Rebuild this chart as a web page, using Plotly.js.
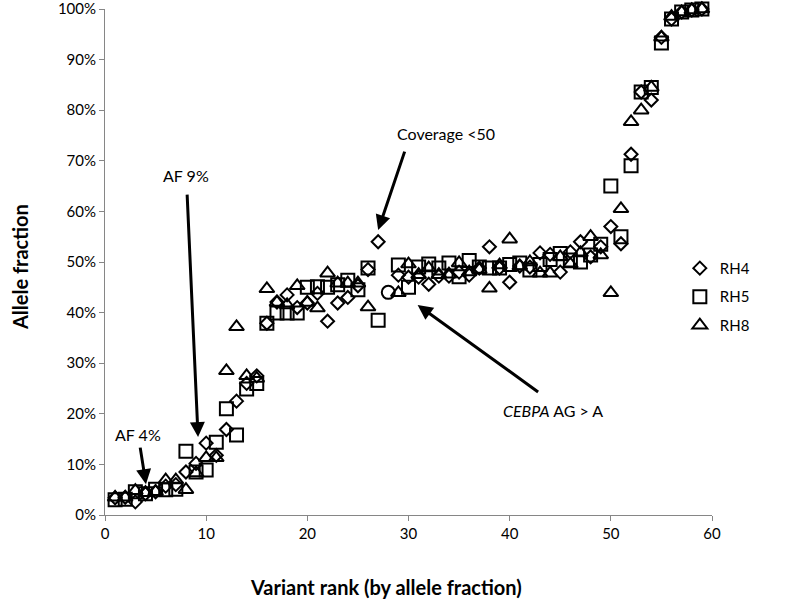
<!DOCTYPE html>
<html>
<head>
<meta charset="utf-8">
<script src="https://cdn.plot.ly/plotly-3.0.1.min.js"></script>
<style>
  html, body { margin: 0; padding: 0; background: #fff; }
  #chart { width: 788px; height: 602px; }
</style>
</head>
<body>
<div id="chart"></div>
<script>
// variant rank 1..59, allele fraction in %
const ranks = Array.from({ length: 59 }, (_, i) => i + 1);

const rh4 = [
  3.4, 3.5, 2.6, 4.2, 4.6, 5.7, 6.0, 8.5, 10.2, 14.2,
  11.8, 16.9, 22.5, 26.0, 27.5, 37.9, 42.1, 43.5, 41.0, 41.9,
  43.8, 38.3, 41.9, 43.0, 45.3, 48.5, 54.0, null, 47.4, 47.0,
  47.0, 45.6, 47.2, 47.2, 48.0, 47.4, 48.8, 53.0, 48.8, 46.0,
  49.2, 49.0, 51.8, 51.5, 48.0, 52.0, 54.0, 51.0, 53.0, 57.0,
  53.6, 71.3, 83.6, 82.0, 94.4, 98.0, 99.4, 99.8, 100,
];

const rh5 = [
  3.0, 3.1, 4.6, 4.2, 5.1, 5.0, 5.1, 12.6, 8.5, 8.9,
  14.4, 21.0, 15.8, 24.9, 26.0, 37.9, 39.9, 39.9, 39.9, 45.0,
  45.1, 45.0, 45.5, 46.4, 44.5, 48.8, 38.5, null, 49.4, 45.0,
  49.0, 49.6, 48.8, 49.8, 47.1, 50.3, 49.0, 48.8, 48.8, 49.5,
  49.8, 48.4, 49.5, 50.5, 51.7, 50.4, 50.0, 51.4, 53.5, 65.0,
  55.0, 69.0, 83.6, 84.5, 93.3, 98.0, 99.4, 99.8, 100,
];

const rh8 = [
  3.5, 3.5, 4.8, 4.4, 4.6, 6.9, 6.9, 5.0, 8.3, 11.3,
  11.3, 28.5, 37.2, 27.5, 27.0, 44.7, 42.0, 41.5, 45.3, 42.0,
  40.9, 47.8, 45.8, 45.8, 45.8, 41.1, null, null, 43.9, 49.6,
  47.5, 48.8, 47.5, 47.6, 49.8, 48.0, 48.5, 44.8, 49.4, 54.5,
  49.2, 50.0, 47.8, 47.8, 51.0, 49.6, 51.8, 55.0, 51.4, 43.9,
  60.5, 77.7, 80.0, 84.5, 94.4, 98.5, 99.4, 99.8, 100,
];

// CEBPA AG > A variant, drawn as an open circle
const cebpaRank = [28];
const cebpaAF = [44.0];

const xTicks = [0, 10, 20, 30, 40, 50, 60];
const yTicks = [0, 10, 20, 30, 40, 50, 60, 70, 80, 90, 100];
const yTickText = yTicks.map((v) => v + "%");

const FONT = "Lato, 'Open Sans', sans-serif";
const AXIS_GREY = "#868686";

function seriesTrace(name, y, symbol, size) {
  return {
    x: ranks,
    y,
    type: "scatter",
    mode: "markers",
    name,
    legendgroup: name,
    cliponaxis: false,
    marker: { symbol, size, color: "#000", line: { color: "#000", width: 2 } },
  };
}

const traces = [
  seriesTrace("RH4", rh4, "diamond-open", 10),
  seriesTrace("RH5", rh5, "square-open", 13),
  seriesTrace("RH8", rh8, "triangle-up-open", 13),
  {
    x: cebpaRank,
    y: cebpaAF,
    type: "scatter",
    mode: "markers",
    showlegend: false,
    marker: { symbol: "circle-open", size: 13, color: "#000", line: { color: "#000", width: 2 } },
  },
];

function arrow(x, y, ax, ay) {
  return {
    x, y, ax, ay, text: "",
    showarrow: true, arrowhead: 2, arrowsize: 1, arrowwidth: 3, arrowcolor: "#000",
  };
}

function label(x, y, text) {
  return { x, y, text, showarrow: false, font: { family: FONT, size: 16, color: "#000" } };
}

const annotations = [
  label(33.7, 75.3, "Coverage <50"),
  arrow(27, 56.3, 27, -80),
  label(8.0, 67.0, "AF 9%"),
  arrow(9.2, 15.4, -11, -244),
  label(3.3, 16.0, "AF 4%"),
  arrow(4.05, 6.1, -6, -38),
  label(44.3, 20.7, "<i>CEBPA</i> AG &gt; A"),
  arrow(30.9, 41.5, 122, 88),
  {
    xref: "paper", yref: "paper", x: 0.463, y: -0.142, xanchor: "center", yanchor: "middle",
    text: "<b>Variant rank (by allele fraction)</b>", showarrow: false,
    font: { family: FONT, size: 20, color: "#000" },
  },
  {
    xref: "paper", yref: "paper", x: -0.14, y: 0.49, xanchor: "center", yanchor: "middle",
    textangle: -90, text: "<b>Allele fraction</b>", showarrow: false,
    font: { family: FONT, size: 20, color: "#000" },
  },
];

const layout = {
  width: 788,
  height: 602,
  font: { family: FONT, size: 15, color: "#000" },
  paper_bgcolor: "#fff",
  plot_bgcolor: "#fff",
  margin: { t: 9, r: 76, b: 87, l: 105 },
  showlegend: true,
  legend: {
    x: 0.947, y: 0.52, xanchor: "left", yanchor: "top",
    traceorder: "grouped", tracegroupgap: 6,
    font: { family: FONT, size: 15 },
    bgcolor: "rgba(0,0,0,0)",
  },
  xaxis: {
    range: [0, 60], tickmode: "array", tickvals: xTicks, showgrid: false, zeroline: false,
    showline: true, linecolor: AXIS_GREY, ticks: "outside", ticklen: 5, tickcolor: AXIS_GREY,
    tickfont: { family: FONT, size: 15 },
  },
  yaxis: {
    range: [0, 100], tickmode: "array", tickvals: yTicks, ticktext: yTickText,
    ticklabeloverflow: "allow",
    showgrid: false, zeroline: false,
    showline: true, linecolor: AXIS_GREY, ticks: "outside", ticklen: 5, tickcolor: AXIS_GREY,
    tickfont: { family: FONT, size: 15 },
  },
  annotations,
};

Plotly.newPlot("chart", traces, layout, { staticPlot: true });
</script>
</body>
</html>
